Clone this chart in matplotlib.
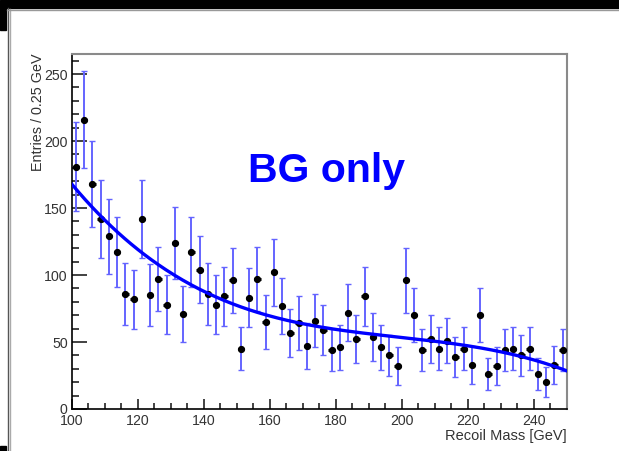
import numpy as np
import matplotlib
matplotlib.use("Agg")
import matplotlib.pyplot as plt
from matplotlib.patches import Rectangle
from matplotlib.lines import Line2D
from matplotlib.ticker import MultipleLocator

plt.rcParams['font.family'] = ['Liberation Sans', 'DejaVu Sans']

# ---- data ----
bin_centers = np.arange(101.25, 250, 2.5)
counts = [181, 216, 168, 142, 129, 117, 86, 82, 142, 85,
          97, 78, 124, 71, 117, 104, 86, 78, 84, 96,
          45, 83, 97, 65, 102, 77, 57, 64, 47, 66,
          59, 44, 46, 72, 52, 84, 54, 46, 40, 32,
          96, 70, 44, 52, 45, 51, 39, 45, 33, 70,
          26, 32, 44, 45, 40, 45, 26, 20, 33, 44]
errors = [33, 36, 32, 29, 28, 26, 23, 22, 29, 23,
          24, 22, 27, 21, 26, 25, 23, 22, 22, 24,
          16, 22, 24, 20, 25, 21, 18, 20, 17, 20,
          19, 16, 17, 21, 18, 22, 18, 17, 15, 14,
          24, 20, 16, 18, 16, 17, 15, 16, 14, 20,
          12, 14, 16, 16, 15, 16, 12, 11, 14, 16]
fit_x = [100, 112.5, 125, 137.5, 150, 162.5, 175, 187.5, 200, 212.5, 225, 237.5, 250]
fit_y = [168, 135, 110, 91, 77, 68.6, 61, 57, 53, 50, 45.5, 38, 28.6]

W, H = 619, 451
fig = plt.figure(figsize=(W / 100, H / 100), dpi=100)
fig.patch.set_facecolor('white')

# window decorations
fig.patches.append(Rectangle((0, 1 - 8 / H), 1, 8 / H, transform=fig.transFigure, color='black', zorder=0))
fig.patches.append(Rectangle((0, 1 - 30 / H), 6 / W, 22 / H, transform=fig.transFigure, color='black', zorder=0))
fig.patches.append(Rectangle((0, 0), 6 / W, 5 / H, transform=fig.transFigure, color='black', zorder=0))
fig.lines.append(Line2D([7.5 / W, 7.5 / W], [0, 1 - 8 / H], transform=fig.transFigure, color='#555555', lw=1))
fig.lines.append(Line2D([9.5 / W, 9.5 / W], [0, 1 - 9 / H], transform=fig.transFigure, color='#aaaaaa', lw=1))
fig.lines.append(Line2D([7 / W, 1], [1 - 9.5 / H, 1 - 9.5 / H], transform=fig.transFigure, color='#999999', lw=1))

left, right, top, bottom = 71.7, 566.7, 54, 409
ax = fig.add_axes([left / W, (H - bottom) / H, (right - left) / W, (bottom - top) / H])
ax.set_xlim(100, 250)
ax.set_ylim(0, 265)

# data points
ax.errorbar(bin_centers, counts, yerr=errors, fmt='none', ecolor='#6464ff', elinewidth=1.4,
            capsize=2.2, capthick=1, zorder=2)
ax.errorbar(bin_centers, counts, xerr=1.0, fmt='none', ecolor='black', elinewidth=2.2, zorder=3)
ax.plot(bin_centers, counts, 'o', color='black', ms=4.2, zorder=4)

# fit curve
coef = np.polyfit(fit_x, fit_y, 4)
xs = np.linspace(100, 250, 300)
ax.plot(xs, np.polyval(coef, xs), color='#0000ff', lw=2.4, zorder=5)

# axes styling
for s in ['left', 'bottom']:
    ax.spines[s].set_color('black')
    ax.spines[s].set_linewidth(1.2)
for s in ['top', 'right']:
    ax.spines[s].set_color('#8a8a8a')
    ax.spines[s].set_linewidth(1.5)

ax.xaxis.set_major_locator(MultipleLocator(20))
ax.xaxis.set_minor_locator(MultipleLocator(5))
ax.yaxis.set_major_locator(MultipleLocator(50))
ax.yaxis.set_minor_locator(MultipleLocator(10))
ax.tick_params(axis='y', which='major', direction='in', length=10.8, width=1.2, pad=2.9,
               labelsize=10.2, labelcolor='#333333', color='#222222')
ax.tick_params(axis='y', which='minor', direction='in', length=5.2, width=1.2, color='#222222')
ax.tick_params(axis='x', which='major', direction='in', length=7.5, width=1.2, pad=3.4,
               labelsize=10.2, labelcolor='#333333', color='#222222')
ax.tick_params(axis='x', which='minor', direction='in', length=4.0, width=1.2, color='#222222')
ax.tick_params(top=False, right=False)

fig.text(right / W, 1 - 436 / H, 'Recoil Mass [GeV]', ha='right', va='center',
         fontsize=10.5, color='#333333')
fig.text(38 / W, 1 - 53 / H, 'Entries / 0.25 GeV', ha='center', va='top', rotation=90,
         fontsize=10.4, color='#333333')
fig.text(248 / W, 1 - 182 / H, 'BG only', ha='left', va='baseline', fontsize=29.5,
         fontweight='bold', color='#0000ff')

fig.savefig('out.png', dpi=100)
